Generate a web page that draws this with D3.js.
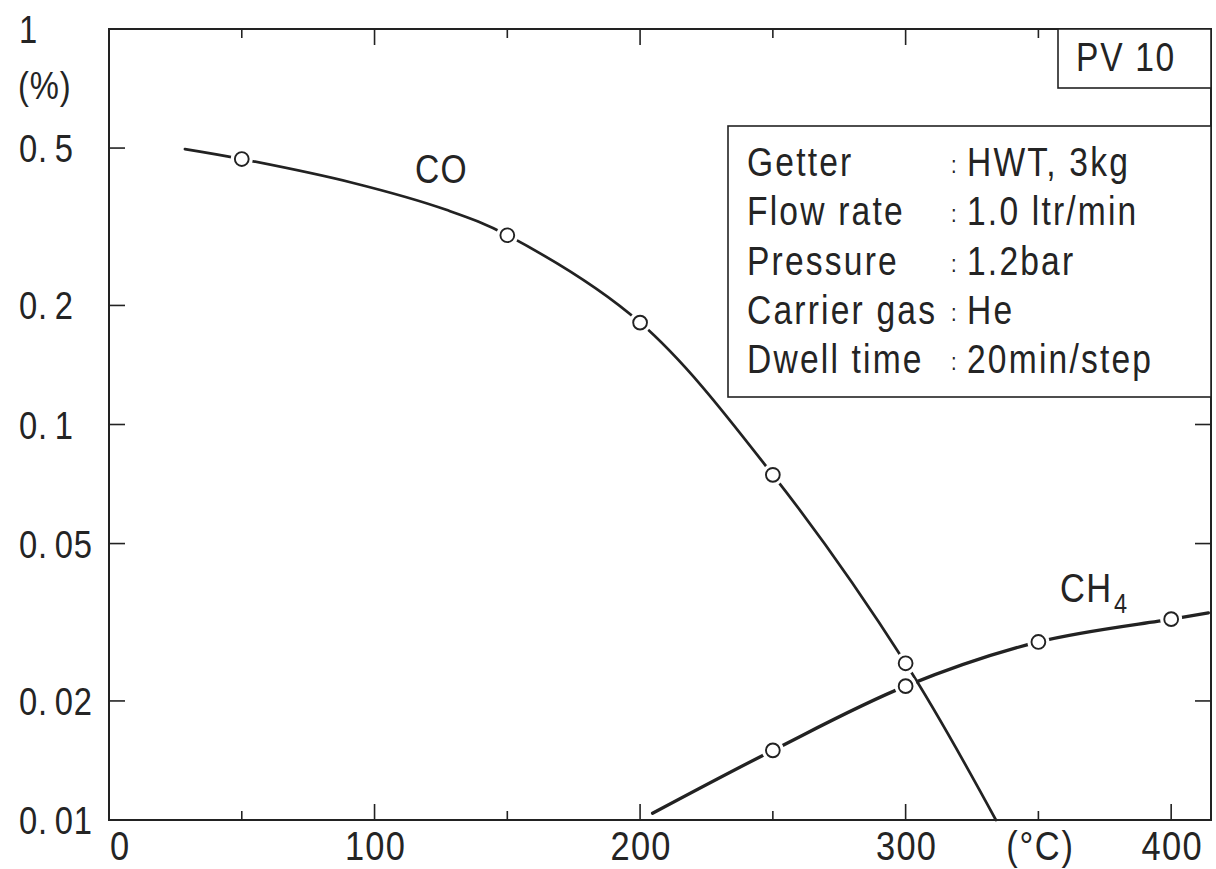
<!DOCTYPE html>
<html>
<head>
<meta charset="utf-8">
<script src="https://cdn.jsdelivr.net/npm/d3@7"></script>
<style>
  body { margin: 0; background: #fff; }
  svg text {
    font-family: 'Liberation Sans', Arial, sans-serif;
    fill: #242424;
  }
</style>
</head>
<body>
<svg id="chart" width="1216" height="869"></svg>
<script>
// Axis ticks: temperature (°C) and concentration (%)
const xMajorTicks = [0, 100, 200, 300, 400];
const xMinorTicks = [50, 150, 250, 350];
const yTicks = [0.01, 0.02, 0.05, 0.1, 0.2, 0.5, 1];
const yTickLabels = ["0.01", "0.02", "0.05", "0.1", "0.2", "0.5", "1"];

// Measured points
const coTemp = [50, 150, 200, 250, 300];
const coValue = [0.469, 0.301, 0.181, 0.0746, 0.0249];
const ch4Temp = [250, 300, 350, 400];
const ch4Value = [0.0150, 0.0218, 0.0282, 0.0322];

// Fitted curves through the points
const coCurveTemp = [28.6, 50, 92, 127, 150, 200, 250, 300, 334];
const coCurveValue = [0.497, 0.469, 0.408, 0.349, 0.301, 0.181, 0.0746, 0.0249, 0.01];
const ch4CurveTemp = [204.7, 250, 300, 350, 400, 414];
const ch4CurveValue = [0.0104, 0.0150, 0.0218, 0.0282, 0.0322, 0.0334];

// Experiment conditions
const conditionNames = ["Getter", "Flow rate", "Pressure", "Carrier gas", "Dwell time"];
const conditionValues = ["HWT, 3kg", "1.0 ltr/min", "1.2bar", "He", "20min/step"];

const svg = d3.select("#chart");
const ink = "#222";
const narrow = 0.84; // horizontal squeeze for a condensed face

const x = d3.scaleLinear().domain([0, 415]).range([109, 1211]);
const y = d3.scaleLog().domain([0.01, 1]).range([820, 29]);

const [x0, x1] = x.range();
const [yb, yt] = y.range();

// Condensed text: a normal sans face squeezed horizontally
function label(px, py, str, size, anchor, spacing) {
  return svg.append("text")
    .attr("transform", `translate(${px},${py}) scale(${narrow},1)`)
    .attr("text-anchor", anchor || "start")
    .attr("font-size", size)
    .attr("letter-spacing", spacing || 0)
    .text(str);
}

// Frame
svg.append("rect")
  .attr("x", x0).attr("y", yt)
  .attr("width", x1 - x0).attr("height", yb - yt)
  .attr("fill", "none").attr("stroke", ink).attr("stroke-width", 2);

// Inward ticks on all four sides
const tickG = svg.append("g").attr("stroke", ink).attr("stroke-width", 1.6);
xMajorTicks.filter(d => d > 0).forEach(d => {
  tickG.append("line").attr("x1", x(d)).attr("x2", x(d)).attr("y1", yb).attr("y2", yb - 16);
  tickG.append("line").attr("x1", x(d)).attr("x2", x(d)).attr("y1", yt).attr("y2", yt + 16);
});
xMinorTicks.forEach(d => {
  tickG.append("line").attr("x1", x(d)).attr("x2", x(d)).attr("y1", yb).attr("y2", yb - 9);
  tickG.append("line").attr("x1", x(d)).attr("x2", x(d)).attr("y1", yt).attr("y2", yt + 9);
});
yTicks.filter(d => d > 0.01 && d < 1).forEach(d => {
  tickG.append("line").attr("x1", x0).attr("x2", x0 + 16).attr("y1", y(d)).attr("y2", y(d));
  tickG.append("line").attr("x1", x1).attr("x2", x1 - 16).attr("y1", y(d)).attr("y2", y(d));
});

// Y tick labels, left aligned, with a gap after the decimal point
yTicks.forEach((d, i) => {
  const t = label(19, y(d) + 14, null, 39, "start", 1);
  const parts = yTickLabels[i].split(".");
  if (parts.length === 2) {
    t.append("tspan").text(parts[0] + ".");
    t.append("tspan").attr("dx", 8).text(parts[1]);
  } else {
    t.text(yTickLabels[i]);
  }
});
label(18, 99, "(%)", 39, "start", 1);

// X tick labels
xMajorTicks.forEach(d => {
  label(x(d) + 1, 860, String(d), 41, d === 0 ? "start" : "middle", 1.5);
});
label(x(350) + 2, 860, "(°C)", 41, "middle", 2);

// Curves
const line = d3.line()
  .x(d => x(d[0]))
  .y(d => y(d[1]))
  .curve(d3.curveCatmullRom.alpha(0.5));

const coCurve = coCurveTemp.map((t, i) => [t, coCurveValue[i]]);
const ch4Curve = ch4CurveTemp.map((t, i) => [t, ch4CurveValue[i]]);

svg.append("path").datum(ch4Curve)
  .attr("d", line).attr("fill", "none")
  .attr("stroke", ink).attr("stroke-width", 3.3).attr("stroke-linecap", "round");
svg.append("path").datum(coCurve)
  .attr("d", line).attr("fill", "none")
  .attr("stroke", ink).attr("stroke-width", 2.7).attr("stroke-linecap", "round");

// Markers: open circles with a white gap around them
const points = coTemp.map((t, i) => [t, coValue[i]])
  .concat(ch4Temp.map((t, i) => [t, ch4Value[i]]));

svg.append("g").selectAll("circle.gap").data(points).join("circle")
  .attr("class", "gap")
  .attr("cx", d => x(d[0])).attr("cy", d => y(d[1]))
  .attr("r", 11).attr("fill", "#fff");
svg.append("g").selectAll("circle.pt").data(points).join("circle")
  .attr("class", "pt")
  .attr("cx", d => x(d[0])).attr("cy", d => y(d[1]))
  .attr("r", 6.9).attr("fill", "#fff")
  .attr("stroke", ink).attr("stroke-width", 1.9);

// Series labels
label(415, 183, "CO", 40, "start", 1.5);
const ch4Label = label(1060, 602, null, 41, "start", 1.5);
ch4Label.append("tspan").text("CH");
ch4Label.append("tspan").attr("font-size", 28).attr("dx", 2).attr("dy", 11).text("4");

// Sample box
svg.append("rect")
  .attr("x", 1058).attr("y", yt)
  .attr("width", x1 - 1058).attr("height", 59)
  .attr("fill", "#fff").attr("stroke", ink).attr("stroke-width", 1.6);
label(1126, 71, "PV 10", 40, "middle", 2);

// Conditions box
svg.append("rect")
  .attr("x", 728).attr("y", 126)
  .attr("width", x1 - 728).attr("height", 271)
  .attr("fill", "#fff").attr("stroke", ink).attr("stroke-width", 1.6);
conditionNames.forEach((name, i) => {
  const by = 176 + i * 49.3;
  label(747, by, name, 40, "start", 2.6);
  label(951, by - 3, ":", 24, "start", 0);
  label(967, by, conditionValues[i], 40, "start", 2.6);
});
</script>
</body>
</html>
